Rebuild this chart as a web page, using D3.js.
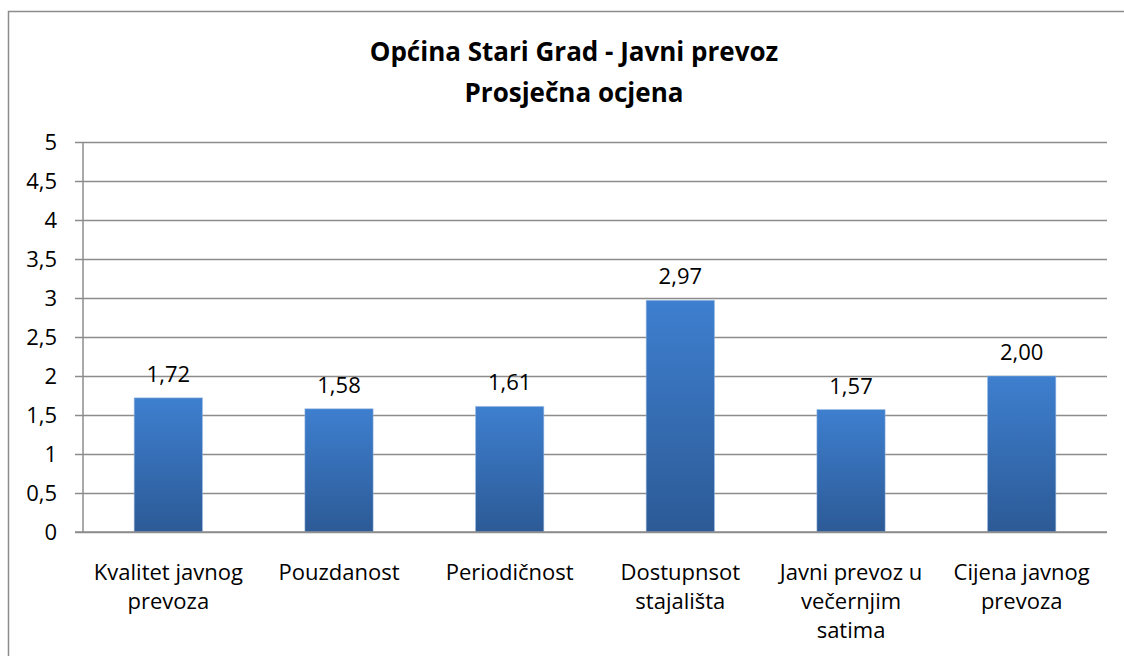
<!DOCTYPE html>
<html>
<head>
<meta charset="utf-8">
<script src="https://cdn.jsdelivr.net/npm/d3@7"></script>
<style>
body{margin:0;background:#fff;}
svg{display:block;font-family:"Open Sans","Noto Sans",sans-serif;}
</style>
</head>
<body>
<div id="chart"></div>
<script>
// data
var categories = ["Kvalitet javnog\nprevoza","Pouzdanost","Periodičnost","Dostupnsot\nstajališta","Javni prevoz u\nvečernjim\nsatima","Cijena javnog\nprevoza"];
var values = [1.72,1.58,1.61,2.97,1.57,2.00];
var yTicks = [0,0.5,1,1.5,2,2.5,3,3.5,4,4.5,5];
var titleLines = ["Općina Stari Grad - Javni prevoz","Prosječna ocjena"];

var W=1124, H=656;
var m={left:83, top:142, right:1107, bottom:532};
var fs = "22px";

var svg = d3.select("#chart").append("svg").attr("width",W).attr("height",H);

//gradient for bars
var defs = svg.append("defs");
var grad = defs.append("linearGradient").attr("id","barGrad").attr("x1",0).attr("y1",0).attr("x2",0).attr("y2",1);
grad.append("stop").attr("offset","0%").attr("stop-color","#3e7fcf");
grad.append("stop").attr("offset","100%").attr("stop-color","#2c5a96");

//outer frame
svg.append("rect").attr("x",8.5).attr("y",11.5).attr("width",1200).attr("height",800)
	.attr("fill","none").attr("stroke","#8c8c8c").attr("stroke-width",1.5);

var x = d3.scaleBand().domain(categories).range([m.left,m.right]).paddingInner(0.6).paddingOuter(0.3);
var y = d3.scaleLinear().domain([0,5]).range([m.bottom,m.top]);

//gridlines + y ticks
var yAxis = svg.append("g").attr("transform","translate("+m.left+",0)")
	.call(d3.axisLeft(y).tickValues(yTicks).tickFormat(function(d){return String(d).replace(".",",");})
		.tickSize(8).tickPadding(18));
yAxis.select(".domain").remove();
yAxis.selectAll(".tick line").attr("x1",-8).attr("x2",m.right-m.left).attr("stroke","#8c8c8c").attr("stroke-width",1.5);
yAxis.selectAll(".tick text").attr("font-size",fs).attr("fill","#000").attr("font-family","Open Sans");

//y axis line
svg.append("line").attr("x1",m.left).attr("x2",m.left).attr("y1",m.top).attr("y2",m.bottom)
	.attr("stroke","#8c8c8c").attr("stroke-width",1.5);

//bars
svg.selectAll(".bar").data(values).enter().append("rect")
	.attr("class","bar")
	.attr("x",function(d,i){return x(categories[i]);})
	.attr("y",function(d){return y(d);})
	.attr("width",x.bandwidth())
	.attr("height",function(d){return y(0)-y(d);})
	.attr("fill","url(#barGrad)")
	.attr("stroke","#9dbbe3").attr("stroke-opacity",0.5).attr("stroke-width",1);

//value labels
svg.selectAll(".val").data(values).enter().append("text")
	.attr("class","val")
	.attr("x",function(d,i){return x(categories[i])+x.bandwidth()/2;})
	.attr("y",function(d){return y(d)-16;})
	.attr("text-anchor","middle").attr("font-size",fs)
	.text(function(d){return d.toFixed(2).replace(".",",");});

//x axis base line
svg.append("line").attr("x1",m.left-8).attr("x2",m.right).attr("y1",m.bottom).attr("y2",m.bottom)
	.attr("stroke","#8c8c8c").attr("stroke-width",1.5);

//category labels
var catG = svg.selectAll(".cat").data(categories).enter().append("text")
	.attr("class","cat")
	.attr("text-anchor","middle").attr("font-size",fs)
	.attr("transform",function(d){return "translate("+(x(d)+x.bandwidth()/2)+",580)";});
catG.each(function(d){
	var lines = d.split("\n");
	var t = d3.select(this);
	lines.forEach(function(l,i){
		t.append("tspan").attr("x",0).attr("y",i*29).text(l);
	});
});

//title
svg.selectAll(".title").data(titleLines).enter().append("text")
	.attr("class","title")
	.attr("x",574).attr("y",function(d,i){return 61+i*41;})
	.attr("text-anchor","middle").attr("font-size","26px").attr("font-weight","bold")
	.text(function(d){return d;});
</script>
</body>
</html>
